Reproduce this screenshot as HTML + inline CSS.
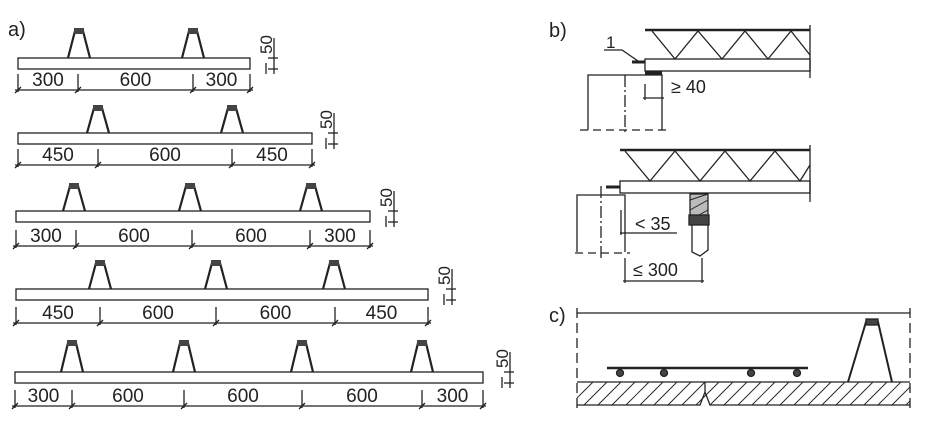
<!DOCTYPE html>
<html><head><meta charset="utf-8"><style>
html,body{margin:0;padding:0;background:#fff;}
svg{display:block;}
text{font-family:"Liberation Sans",sans-serif;fill:#222;}
</style></head><body>
<svg id="s" width="926" height="424" viewBox="0 0 926 424" xmlns="http://www.w3.org/2000/svg" stroke="#222" fill="none" stroke-width="1.3">
<text x="8" y="36" font-size="20" stroke="none">a)</text>
<text x="549" y="37" font-size="20" stroke="none">b)</text>
<text x="549" y="322" font-size="20" stroke="none">c)</text>
<g id="a"></g>
<!-- panel b top -->
<line x1="645" y1="30" x2="810" y2="30" stroke-width="2.5"/>
<polyline points="652,31 675,59 698,31 722,59 745,31 768,59 791,31 810,55"/>
<rect x="645" y="59" width="165" height="12"/>
<line x1="810" y1="25" x2="810" y2="78"/>
<line x1="632" y1="62" x2="645" y2="62" stroke-width="3"/>
<text x="606" y="48" font-size="17" stroke="none">1</text>
<polyline points="604,50 622,50 638,61"/>
<line x1="645" y1="73" x2="662" y2="73" stroke-width="3"/>
<polyline points="588,130 588,75 662,75 662,130"/>
<line x1="580" y1="130" x2="668" y2="130" stroke-dasharray="8,5"/>
<line x1="625" y1="75" x2="625" y2="135" stroke-dasharray="12,3,2,3"/>
<line x1="645" y1="84" x2="645" y2="100"/>
<line x1="643" y1="98" x2="664" y2="98"/>
<text x="671" y="93" font-size="18" stroke="none">≥ 40</text>
<!-- panel b bottom -->
<line x1="620" y1="150" x2="810" y2="150" stroke-width="2.5"/>
<polyline points="625,151 650,181 675,151 700,181 725,151 750,181 775,151 800,181 810,165"/>
<rect x="620" y="181" width="190" height="12"/>
<line x1="810" y1="145" x2="810" y2="202"/>
<line x1="606" y1="187" x2="620" y2="187" stroke-width="3"/>
<polyline points="577,252 577,195 625,195 625,252"/>
<line x1="575" y1="253" x2="630" y2="253" stroke-dasharray="8,5"/>
<line x1="601" y1="186" x2="601" y2="258" stroke-dasharray="12,3,2,3"/>
<line x1="621" y1="210" x2="621" y2="235"/>
<line x1="620" y1="233" x2="677" y2="233"/>
<text x="635" y="230" font-size="18" stroke="none">&lt; 35</text>
<rect x="690" y="194" width="18" height="30" fill="#bbb"/>
<path d="M690 200 L708 194 M690 210 L708 200 M690 220 L708 210" stroke-width="1"/>
<rect x="689" y="215" width="20" height="10" fill="#444" stroke="#222"/>
<polyline points="692,225 692,252 700,256 708,250 708,225"/>
<line x1="625" y1="258" x2="625" y2="283"/>
<line x1="702" y1="258" x2="702" y2="283"/>
<line x1="623" y1="281" x2="704" y2="281"/>
<text x="633" y="276" font-size="18" stroke="none">≤ 300</text>
<!-- panel c -->
<line x1="577" y1="313" x2="910" y2="313"/>
<line x1="577" y1="308" x2="577" y2="412" stroke-dasharray="10,5"/>
<line x1="910" y1="308" x2="910" y2="412" stroke-dasharray="10,5"/>
<polyline points="577,382 910,382"/>
<polyline points="577,405 700,405 705,392 710,405 910,405"/>
<line x1="705" y1="382" x2="705" y2="392"/>
<g id="hatch" stroke-width="0.9"></g>
<line x1="607" y1="368" x2="808" y2="368" stroke-width="2.5"/>
<circle cx="620" cy="373" r="3.5" fill="#444"/><circle cx="664" cy="373" r="3.5" fill="#444"/>
<circle cx="751" cy="373" r="3.5" fill="#444"/><circle cx="797" cy="373" r="3.5" fill="#444"/>
<polyline points="848,382 866,322 878,322 892,382" stroke-width="2"/>
<rect x="866" y="319" width="12" height="6" fill="#444"/>
</svg>
<script>
var NS="http://www.w3.org/2000/svg",g=document.getElementById('a');
function el(t,a,txt){var e=document.createElementNS(NS,t);for(var k in a)e.setAttribute(k,a[k]);if(txt)e.textContent=txt;g.appendChild(e);return e;}
var rows=[
 {x1:18,x2:250,y:58,top:28,tr:[79,193],ticks:[18,78,193,250],lab:["300","600","300"],d:90,fx:272},
 {x1:18,x2:312,y:133,top:105,tr:[98,232],ticks:[18,98,232,312],lab:["450","600","450"],d:165,fx:332},
 {x1:16,x2:370,y:211,top:183,tr:[74,190,311],ticks:[16,76,192,310,370],lab:["300","600","600","300"],d:246,fx:392},
 {x1:16,x2:428,y:289,top:260,tr:[100,216,334],ticks:[16,100,216,335,428],lab:["450","600","600","450"],d:323,fx:450},
 {x1:15,x2:483,y:372,top:340,tr:[72,184,302,422],ticks:[15,72,184,302,422,483],lab:["300","600","600","600","300"],d:406,fx:508}
];
rows.forEach(function(r){
 el('rect',{x:r.x1,y:r.y,width:r.x2-r.x1,height:11});
 r.tr.forEach(function(c){
  el('polyline',{points:(c-11)+','+r.y+' '+(c-4)+','+(r.top+3)+' '+(c+4)+','+(r.top+3)+' '+(c+11)+','+r.y,'stroke-width':2.2});
  el('rect',{x:c-5,y:r.top,width:10,height:6,fill:'#444',stroke:'none'});
 });
 el('line',{x1:r.x1-3,y1:r.d,x2:r.x2+3,y2:r.d});
 r.ticks.forEach(function(t){el('line',{x1:t,y1:r.d-16,x2:t,y2:r.d+2});el('line',{x1:t-3,y1:r.d+3,x2:t+3,y2:r.d-3});});
 for(var i=0;i<r.lab.length;i++){var m=(r.ticks[i]+r.ticks[i+1])/2;el('text',{x:m,y:r.d-4,'font-size':19,'text-anchor':'middle',stroke:'none'},r.lab[i]);}
 var f=r.fx;el('line',{x1:f-4,y1:r.y,x2:f+6,y2:r.y});el('line',{x1:f-4,y1:r.y+11,x2:f+6,y2:r.y+11});
 el('line',{x1:f+2,y1:r.y-20,x2:f+2,y2:r.y+16});el('line',{x1:f-6,y1:r.y+5,x2:f-6,y2:r.y+16});
 el('text',{x:0,y:0,'font-size':17,stroke:'none',transform:'translate('+(f)+','+(r.y-4)+') rotate(-90)'},"50");
});
var h=document.getElementById('hatch');
for(var x=570;x<920;x+=14){var l=document.createElementNS(NS,'line');l.setAttribute('x1',Math.max(577,x));l.setAttribute('y1',405-(Math.max(577,x)-x));l.setAttribute('x2',Math.min(910,x+23));l.setAttribute('y2',382+(x+23>910?(x+23-910):0));h.appendChild(l);}
</script>
</body></html>
